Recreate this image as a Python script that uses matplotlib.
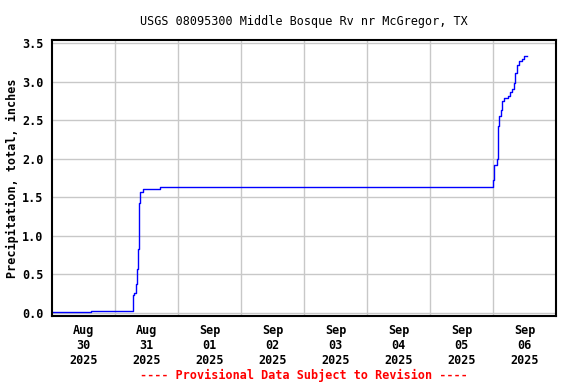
import matplotlib
matplotlib.use("Agg")
import matplotlib.pyplot as plt
import matplotlib.dates as mdates
import numpy as np
import pandas as pd

# precipitation record (cumulative, inches)
times = ["2025-08-30 00:00", "2025-08-30 14:50", "2025-08-31 06:45", "2025-08-31 07:20",
         "2025-08-31 08:00", "2025-08-31 08:35", "2025-08-31 09:00", "2025-08-31 09:20",
         "2025-08-31 09:45", "2025-08-31 10:35", "2025-08-31 15:00", "2025-08-31 17:15",
         "2025-09-05 23:50", "2025-09-06 00:15", "2025-09-06 01:30", "2025-09-06 01:50",
         "2025-09-06 02:15", "2025-09-06 02:45", "2025-09-06 03:25", "2025-09-06 04:10",
         "2025-09-06 05:35", "2025-09-06 06:15", "2025-09-06 07:05", "2025-09-06 07:45",
         "2025-09-06 08:20", "2025-09-06 09:05", "2025-09-06 09:55", "2025-09-06 10:50",
         "2025-09-06 11:30", "2025-09-06 12:55"]
precip = [0.01, 0.02, 0.23, 0.26,
          0.37, 0.57, 0.83, 1.42,
          1.57, 1.60, 1.61, 1.63,
          1.72, 1.92, 2.00, 2.42,
          2.55, 2.63, 2.75, 2.79,
          2.82, 2.87, 2.91, 2.99,
          3.11, 3.22, 3.27, 3.29,
          3.34, 3.34]

day_labels = ["Aug\n30\n2025", "Aug\n31\n2025", "Sep\n01\n2025", "Sep\n02\n2025",
              "Sep\n03\n2025", "Sep\n04\n2025", "Sep\n05\n2025", "Sep\n06\n2025"]
y_ticks = [0.0, 0.5, 1.0, 1.5, 2.0, 2.5, 3.0, 3.5]

t = pd.to_datetime(times)
days = pd.date_range("2025-08-30", periods=9, freq="D")
noon = days[:-1] + pd.Timedelta(hours=12)

font = "DejaVu Sans Mono"

fig = plt.figure(figsize=(5.76, 3.84), dpi=100)
ax = fig.add_axes([0.0898, 0.178, 0.8762, 0.718])

ax.plot(t, precip, color="#0000ff", lw=1.0, drawstyle="steps-post")

ax.set_xlim(days[0], days[-1])
ax.set_ylim(-0.039, 3.543)

# labels sit at noon, gridlines at midnight
ax.set_xticks(noon)
ax.set_xticklabels(day_labels, fontfamily=font, fontweight="bold", fontsize=8.5,
                   linespacing=1.2)
ax.set_xticks(days[1:-1], minor=True)
ax.grid(True, which="minor", axis="x", color="#c8c8c8", lw=1)
ax.set_yticks(y_ticks)
ax.set_yticklabels(["%.1f" % v for v in y_ticks], fontfamily=font,
                   fontweight="bold", fontsize=8.5)
ax.grid(True, which="major", axis="y", color="#c8c8c8", lw=1)
ax.tick_params(which="both", length=0, pad=6)
ax.set_axisbelow(True)

for s in ax.spines.values():
    s.set_linewidth(1.5)

ax.set_ylabel("Precipitation, total, inches", fontfamily=font, fontweight="bold",
              fontsize=8.5, labelpad=2)
ax.set_title("USGS 08095300 Middle Bosque Rv nr McGregor, TX", fontfamily=font,
             fontsize=8.5, pad=11)
fig.text(0.527, 0.023, "---- Provisional Data Subject to Revision ----",
         color="red", fontfamily=font, fontweight="bold", fontsize=8.5,
         ha="center", va="center")

fig.savefig("out.png", dpi=100)
